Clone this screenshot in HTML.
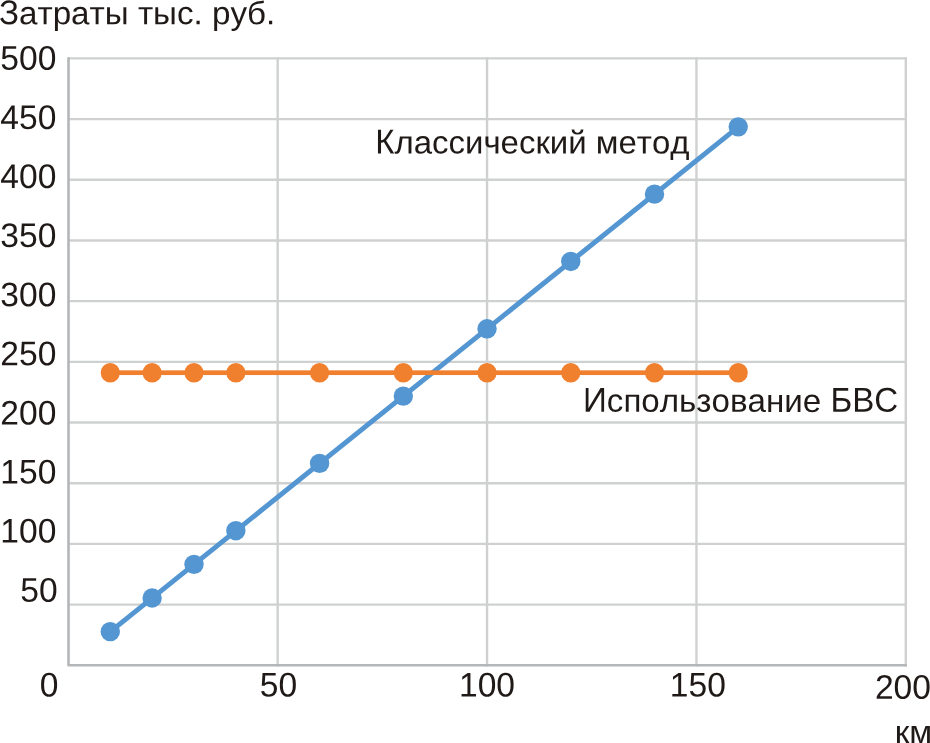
<!DOCTYPE html>
<html lang="ru"><head><meta charset="utf-8"><title>Затраты</title>
<style>
html,body{margin:0;padding:0;background:#fff;overflow:hidden;width:930px;height:743px}
svg{display:block;will-change:transform}
text{font-family:"Liberation Sans",sans-serif;font-size:33px;fill:#1f1a17;font-kerning:none;white-space:pre;text-rendering:geometricPrecision}
</style></head><body>
<svg width="930" height="743" viewBox="0 0 930 743">
<rect width="930" height="743" fill="#ffffff"/>
<g stroke="#cfd1d1" stroke-width="2.4" fill="none">
<line x1="68.50" y1="604.61" x2="907.00" y2="604.61"/>
<line x1="68.50" y1="543.92" x2="907.00" y2="543.92"/>
<line x1="68.50" y1="483.23" x2="907.00" y2="483.23"/>
<line x1="68.50" y1="422.54" x2="907.00" y2="422.54"/>
<line x1="68.50" y1="361.85" x2="907.00" y2="361.85"/>
<line x1="68.50" y1="301.16" x2="907.00" y2="301.16"/>
<line x1="68.50" y1="240.47" x2="907.00" y2="240.47"/>
<line x1="68.50" y1="179.78" x2="907.00" y2="179.78"/>
<line x1="68.50" y1="119.09" x2="907.00" y2="119.09"/>
<line x1="68.50" y1="58.40" x2="907.00" y2="58.40"/>
<line x1="277.65" y1="57.20" x2="277.65" y2="666.50"/>
<line x1="487.05" y1="57.20" x2="487.05" y2="666.50"/>
<line x1="696.45" y1="57.20" x2="696.45" y2="666.50"/>
<line x1="905.80" y1="57.20" x2="905.80" y2="666.50"/>
</g>
<path d="M68.50 58.40 L68.50 665.30 L905.80 665.30" stroke="#b4b6b8" stroke-width="2.6" fill="none" stroke-linejoin="round" stroke-linecap="round"/>
<g fill="#5496d2">
<line x1="110.37" y1="631.65" x2="738.34" y2="126.86" stroke="#5496d2" stroke-width="5"/>
<circle cx="110.27" cy="631.65" r="9.7"/>
<circle cx="152.13" cy="597.99" r="9.7"/>
<circle cx="194.00" cy="564.34" r="9.7"/>
<circle cx="235.86" cy="530.69" r="9.7"/>
<circle cx="319.59" cy="463.38" r="9.7"/>
<circle cx="403.32" cy="396.08" r="9.7"/>
<circle cx="487.05" cy="328.77" r="9.7"/>
<circle cx="570.78" cy="261.47" r="9.7"/>
<circle cx="654.51" cy="194.16" r="9.7"/>
<circle cx="738.24" cy="126.86" r="9.7"/>
</g>
<g fill="#f07f2e" stroke="none">
<rect x="110.37" y="370.35" width="627.98" height="4.7"/>
<ellipse cx="110.27" cy="372.75" rx="9.55" ry="9.85"/>
<ellipse cx="152.13" cy="372.75" rx="9.55" ry="9.85"/>
<ellipse cx="194.00" cy="372.75" rx="9.55" ry="9.85"/>
<ellipse cx="235.86" cy="372.75" rx="9.55" ry="9.85"/>
<ellipse cx="319.59" cy="372.75" rx="9.55" ry="9.85"/>
<ellipse cx="403.32" cy="372.75" rx="9.55" ry="9.85"/>
<ellipse cx="487.05" cy="372.75" rx="9.55" ry="9.85"/>
<ellipse cx="570.78" cy="372.75" rx="9.55" ry="9.85"/>
<ellipse cx="654.51" cy="372.75" rx="9.55" ry="9.85"/>
<ellipse cx="738.24" cy="372.75" rx="9.55" ry="9.85"/>
</g>
<text transform="translate(-1.09 24.20) rotate(0.03) scale(1.0063 1.0450)">З</text>
<text transform="translate(18.97 24.20) rotate(0.03) scale(1.0063 0.9800)">атраты тыс. руб.</text>
<text transform="translate(0.36 69.80) rotate(0.03) scale(1.0180 1.0350)">500</text>
<text transform="translate(0.36 128.90) rotate(0.03) scale(1.0180 1.0350)">450</text>
<text transform="translate(0.36 188.00) rotate(0.03) scale(1.0180 1.0350)">400</text>
<text transform="translate(0.36 247.10) rotate(0.03) scale(1.0180 1.0350)">350</text>
<text transform="translate(0.36 306.20) rotate(0.03) scale(1.0180 1.0350)">300</text>
<text transform="translate(0.36 365.30) rotate(0.03) scale(1.0180 1.0350)">250</text>
<text transform="translate(0.36 424.40) rotate(0.03) scale(1.0180 1.0350)">200</text>
<text transform="translate(0.36 483.50) rotate(0.03) scale(1.0180 1.0350)">150</text>
<text transform="translate(0.36 542.60) rotate(0.03) scale(1.0180 1.0350)">100</text>
<text transform="translate(20.35 601.70) rotate(0.03) scale(1.0180 1.0350)">50</text>
<text transform="translate(39.86 696.40) rotate(0.03) scale(1.0180 1.0350)">0</text>
<text transform="translate(259.75 696.40) rotate(0.03) scale(1.0180 1.0350)">50</text>
<text transform="translate(459.00 696.40) rotate(0.03) scale(1.0180 1.0350)">100</text>
<text transform="translate(669.85 696.40) rotate(0.03) scale(1.0180 1.0350)">150</text>
<text transform="translate(874.91 698.80) rotate(0.03) scale(1.0180 1.0350)">200</text>
<text transform="translate(894.65 743.00) rotate(0.03) scale(1.0100 0.9800)">км</text>
<text transform="translate(375.19 153.40) rotate(0.03) scale(0.9994 1.0450)">К</text>
<text transform="translate(394.41 153.40) rotate(0.03) scale(0.9994 0.9800)">лассический метод</text>
<text transform="translate(583.03 411.80) rotate(0.03) scale(1.0038 1.0450)">И</text>
<text transform="translate(606.84 411.80) rotate(0.03) scale(1.0038 0.9800)">спользование </text>
<text transform="translate(830.41 411.80) rotate(0.03) scale(1.0038 1.0450)">БВС</text>
</svg>
</body></html>
